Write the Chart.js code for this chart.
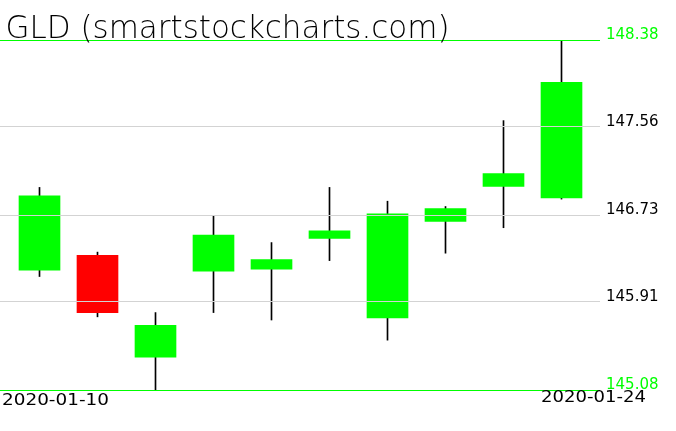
<!DOCTYPE html>
<html>
<head>
<meta charset="utf-8">
<style>
  html, body { margin: 0; padding: 0; background: #ffffff; }
  #wrap { width: 676px; height: 431px; position: relative; }
</style>
<script src="https://cdn.jsdelivr.net/npm/chart.js@4/dist/chart.umd.min.js"></script>
</head>
<body>
<div id="wrap"><canvas id="c" width="676" height="431"></canvas></div>
<script>
const chartTitle = "GLD (smartstockcharts.com)";
const dates = ["2020-01-10","2020-01-13","2020-01-14","2020-01-15","2020-01-16","2020-01-17","2020-01-21","2020-01-22","2020-01-23","2020-01-24"];
const opens  = [146.21, 146.35, 145.39, 146.20, 146.22, 146.51, 145.76, 146.67, 147.00, 146.89];
const closes = [146.91, 145.81, 145.69, 146.54, 146.31, 146.58, 146.74, 146.79, 147.12, 147.98];
const highs  = [146.99, 146.38, 145.81, 146.72, 146.47, 146.99, 146.86, 146.81, 147.62, 148.38];
const lows   = [146.15, 145.77, 145.08, 145.81, 145.74, 146.30, 145.55, 146.37, 146.61, 146.88];
const yTicks = [145.08, 145.91, 146.73, 147.56, 148.38];

const UP = "#00ff00", DOWN = "#ff0000", GRID = "#d3d3d3";

const bodies = dates.map((d, i) => ({ x: i, y: [opens[i], closes[i]] }));
const wicks  = dates.map((d, i) => ({ x: i, y: [lows[i], highs[i]] }));
const bodyColors = dates.map((d, i) => closes[i] >= opens[i] ? UP : DOWN);

function fitText(ctx, text, x, y, width, align) {
  const w = ctx.measureText(text).width;
  const s = width / w;
  ctx.save();
  ctx.translate(align === "right" ? x - width : x, y);
  ctx.scale(s, 1);
  ctx.textAlign = "left";
  ctx.fillText(text, 0, 0);
  ctx.restore();
}

const textPlugin = {
  id: "texts",
  afterDraw(chart) {
    const ctx = chart.ctx;
    const a = chart.chartArea;
    ctx.save();
    ctx.fillStyle = "#000000";
    ctx.textBaseline = "alphabetic";
    ctx.font = "200 32px 'DejaVu Sans'";
    fitText(ctx, chartTitle, 5.5, 37.5, 444, "left");
    ctx.font = "15px 'DejaVu Sans'";
    fitText(ctx, dates[0], a.left + 2, 405, 107, "left");
    fitText(ctx, dates[dates.length - 1], 646, 402, 105, "right");
    ctx.restore();
  }
};

new Chart(document.getElementById("c"), {
  type: "bar",
  data: {
    datasets: [
      { label: "body", data: bodies, backgroundColor: bodyColors, barThickness: 41, grouped: false, order: 0 },
      { label: "wick", data: wicks, backgroundColor: "#000000", barThickness: 1, grouped: false, order: 1 }
    ]
  },
  options: {
    responsive: false,
    animation: false,
    events: [],
    layout: { padding: { top: 40, bottom: 41, left: 0, right: 0 } },
    plugins: { legend: { display: false }, tooltip: { enabled: false }, title: { display: false } },
    scales: {
      x: {
        type: "linear",
        display: false,
        offset: false,
        min: -39.5 / 58,
        max: (600 - 39.5) / 58
      },
      y: {
        position: "right",
        min: yTicks[0],
        max: yTicks[yTicks.length - 1],
        afterBuildTicks: (s) => { s.ticks = yTicks.map(v => ({ value: v })); },
        afterFit: (s) => { s.width = 76; },
        border: { display: false },
        grid: {
          z: 1,
          drawTicks: false,
          lineWidth: 1,
          color: (c) => (c.index === 0 || c.index === yTicks.length - 1) ? UP : GRID
        },
        ticks: {
          padding: 6,
          labelOffset: -5,
          font: { family: "'DejaVu Sans'", size: 15 },
          color: (c) => (c.index === 0 || c.index === yTicks.length - 1) ? UP : "#000000",
          callback: (v) => Number(v).toFixed(2)
        }
      }
    }
  },
  plugins: [textPlugin]
});
</script>
</body>
</html>
